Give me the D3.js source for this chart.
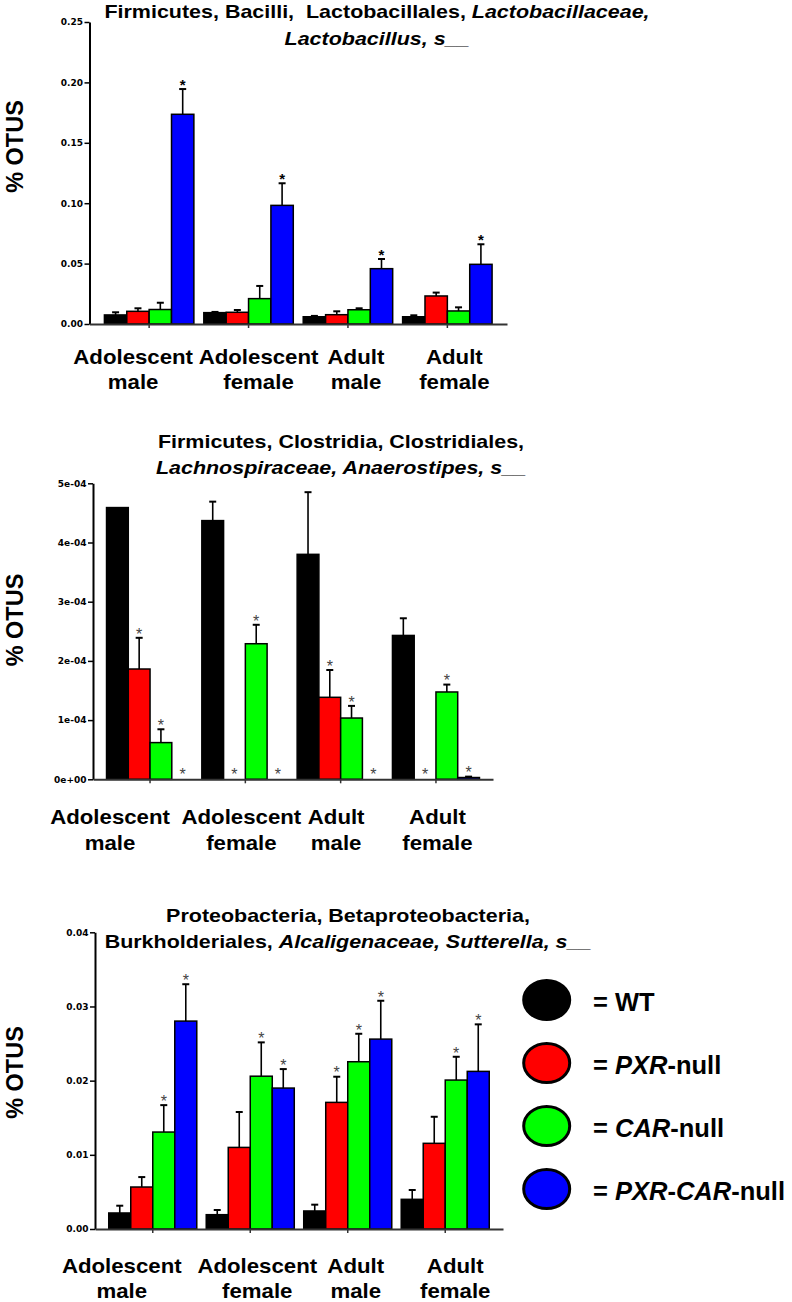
<!DOCTYPE html>
<html><head><meta charset="utf-8">
<script src="https://cdn.jsdelivr.net/npm/d3@7"></script>
<style>body{margin:0;background:#fff}svg{display:block}text{white-space:pre}</style>
</head><body><svg id="c" width="792" height="1302"></svg>
<script>
// ---------- DATA ----------
const groupLine1 = ["Adolescent", "Adolescent", "Adult", "Adult"];
const groupLine2 = ["male", "female", "male", "female"];
const seriesNames = ["WT", "PXR-null", "CAR-null", "PXR-CAR-null"];
const seriesColors = ["#000000", "#ff0000", "#00ff00", "#0000ff"];

// Chart 1: Lactobacillus (% OTUs)
const lacto_WT     = [0.0075, 0.0094, 0.0060, 0.0060];
const lacto_PXR    = [0.0105, 0.0097, 0.0077, 0.0232];
const lacto_CAR    = [0.0120, 0.0210, 0.0118, 0.0108];
const lacto_PXRCAR = [0.1736, 0.0982, 0.0458, 0.0494];
const lacto_WT_se     = [0.0022, 0.0006, 0.0007, 0.0012];
const lacto_PXR_se    = [0.0025, 0.0019, 0.0028, 0.0028];
const lacto_CAR_se    = [0.0056, 0.0105, 0.0012, 0.0030];
const lacto_PXRCAR_se = [0.0209, 0.0183, 0.0080, 0.0166];
const lacto_sig = [[0,0,0,0],[0,0,0,0],[0,0,0,0],[1,1,1,1]];
const lacto_ticks = [0, 0.05, 0.10, 0.15, 0.20, 0.25];

// Chart 2: Anaerostipes (% OTUs)
const anaero_WT     = [4.59e-4, 4.37e-4, 3.80e-4, 2.43e-4];
const anaero_PXR    = [1.863e-4, 0, 1.385e-4, 0];
const anaero_CAR    = [0.62e-4, 2.29e-4, 1.035e-4, 1.475e-4];
const anaero_PXRCAR = [0, 0, 0, 0.03e-4];
const anaero_WT_se     = [0, 0.32e-4, 1.05e-4, 0.29e-4];
const anaero_PXR_se    = [0.527e-4, 0, 0.461e-4, 0];
const anaero_CAR_se    = [0.225e-4, 0.32e-4, 0.205e-4, 0.125e-4];
const anaero_PXRCAR_se = [0, 0, 0, 0.015e-4];
const anaero_sig = [[0,0,0,0],[1,1,1,1],[1,1,1,1],[1,1,1,1]];
const anaero_ticks = [0, 1e-4, 2e-4, 3e-4, 4e-4, 5e-4];

// Chart 3: Sutterella (% OTUs)
const sutt_WT     = [0.00216, 0.00193, 0.00243, 0.00400];
const sutt_PXR    = [0.00566, 0.01100, 0.01707, 0.01155];
const sutt_CAR    = [0.01307, 0.02060, 0.02255, 0.02008];
const sutt_PXRCAR = [0.02803, 0.01900, 0.02560, 0.02125];
const sutt_WT_se     = [0.00098, 0.00063, 0.00085, 0.00126];
const sutt_PXR_se    = [0.00134, 0.00477, 0.00346, 0.00358];
const sutt_CAR_se    = [0.00363, 0.00456, 0.00377, 0.00314];
const sutt_PXRCAR_se = [0.00497, 0.00256, 0.00517, 0.00634];
const sutt_sig = [[0,0,0,0],[0,0,1,0],[1,1,1,1],[1,1,1,1]];
const sutt_ticks = [0, 0.01, 0.02, 0.03, 0.04];

const title1 = [[["Firmicutes, Bacilli,  Lactobacillales, ", false], ["Lactobacillaceae,", true]],
                [["Lactobacillus, s__", true]]];
const title2 = [[["Firmicutes, Clostridia, Clostridiales,", false]],
                [["Lachnospiraceae, Anaerostipes, s__", true]]];
const title3 = [[["Proteobacteria, Betaproteobacteria,", false]],
                [["Burkholderiales, ", false], ["Alcaligenaceae, Sutterella, s__", true]]];
const yLabel = "% OTUS";
const legendParts = [[["= WT", false]], [["= ", false], ["PXR", true], ["-null", false]],
                     [["= ", false], ["CAR", true], ["-null", false]],
                     [["= ", false], ["PXR", true], ["-", false], ["CAR", true], ["-null", false]]];

// ---------- LAYOUT ----------
const FONT = "'Liberation Sans', Arial, Helvetica, sans-serif";
const TICKFONT = "'DejaVu Sans', Verdana, sans-serif";
const sci = v => {
  if (v === 0) return "0e+00";
  const e = Math.floor(Math.log10(v) + 1e-9);
  const m = Math.round(v / Math.pow(10, e));
  return m + "e" + (e < 0 ? "-" : "+") + String(Math.abs(e)).padStart(2, "0");
};

const charts = [
  { means: [lacto_WT, lacto_PXR, lacto_CAR, lacto_PXRCAR],
    ses: [lacto_WT_se, lacto_PXR_se, lacto_CAR_se, lacto_PXRCAR_se],
    sig: lacto_sig, ticks: lacto_ticks, fmt: d3.format(".2f"),
    yRange: [324, 22], xRange: [89.5, 507], po: 0.15, pi: 0.10,
    title: title1, titleX: 377, titleY: [18, 44.5],
    labelY: 146.5, catY: [363.5, 389], catDx: [-16, 10, 8, 7],
    starBold: true },
  { means: [anaero_WT, anaero_PXR, anaero_CAR, anaero_PXRCAR],
    ses: [anaero_WT_se, anaero_PXR_se, anaero_CAR_se, anaero_PXRCAR_se],
    sig: anaero_sig, ticks: anaero_ticks, fmt: sci,
    yRange: [779.3, 483.3], xRange: [93, 493], po: 0.142, pi: 0.087,
    title: title2, titleX: 341, titleY: [448, 474],
    labelY: 620, catY: [824, 849.5], catDx: [-40, -4, -4.5, 1.5],
    starBold: false },
  { means: [sutt_WT, sutt_PXR, sutt_CAR, sutt_PXRCAR],
    ses: [sutt_WT_se, sutt_PXR_se, sutt_CAR_se, sutt_PXRCAR_se],
    sig: sutt_sig, ticks: sutt_ticks, fmt: d3.format(".2f"),
    yRange: [1229, 932.3], xRange: [95, 503], po: 0.141, pi: 0.097,
    title: title3, titleX: 348, titleY: [921.7, 948.3],
    labelY: 1072.5, catY: [1272.7, 1298.3], catDx: [-31, 7, 8, 10],
    starBold: false }
];

const svg = d3.select("#c");

function richText(parent, x, y, parts, size, sx, anchor) {
  const t = parent.append("text")
    .attr("transform", `translate(${x},${y}) scale(${sx},1)`)
    .attr("text-anchor", anchor)
    .attr("font-family", FONT).attr("font-weight", "bold")
    .attr("font-size", size).attr("fill", "#000");
  parts.forEach(([s, it]) => t.append("tspan").attr("font-style", it ? "italic" : "normal").text(s));
  return t;
}

charts.forEach(ch => {
  const g = svg.append("g");
  const y = d3.scaleLinear().domain([ch.ticks[0], ch.ticks[ch.ticks.length - 1]]).range(ch.yRange);
  const xb = d3.scaleBand().domain(d3.range(groupLine1.length)).range(ch.xRange)
    .paddingInner(ch.pi).paddingOuter(ch.po);
  const xs = d3.scaleBand().domain(d3.range(seriesNames.length)).range([0, xb.bandwidth()]);

  // bars
  seriesNames.forEach((s, si) => {
    ch.means[si].forEach((v, gi) => {
      if (v <= 0) return;
      g.append("rect")
        .attr("x", xb(gi) + xs(si)).attr("y", y(v))
        .attr("width", xs.bandwidth()).attr("height", y(0) - y(v))
        .attr("fill", seriesColors[si]).attr("stroke", "#000").attr("stroke-width", 1.5);
    });
  });

  // error bars + stars
  seriesNames.forEach((s, si) => {
    ch.means[si].forEach((v, gi) => {
      const se = ch.ses[si][gi];
      const cx = xb(gi) + xs(si) + xs.bandwidth() / 2;
      if (se > 0) {
        g.append("line").attr("x1", cx).attr("x2", cx).attr("y1", y(v)).attr("y2", y(v + se))
          .attr("stroke", "#000").attr("stroke-width", 1.6);
        g.append("line").attr("x1", cx - 3.5).attr("x2", cx + 3.5).attr("y1", y(v + se)).attr("y2", y(v + se))
          .attr("stroke", "#000").attr("stroke-width", 2);
      }
      if (ch.sig[si][gi]) {
        const top = y(v + se);
        const fs = ch.starBold ? 15 : 16;
        const center = top - (v + se > 0 ? 7.5 : 9);
        g.append("text").attr("x", cx).attr("y", center + 0.58 * fs)
          .attr("text-anchor", "middle").attr("font-family", FONT)
          .attr("font-weight", ch.starBold ? "bold" : "normal")
          .attr("font-size", fs).attr("fill", ch.starBold ? "#000" : "#444").text("*");
      }
    });
  });

  // y axis
  const ya = g.append("g").attr("transform", `translate(${ch.xRange[0]},0)`)
    .call(d3.axisLeft(y).tickValues(ch.ticks).tickFormat(ch.fmt).tickSize(5).tickSizeOuter(0).tickPadding(1.5));
  ya.select(".domain").attr("stroke", "#000").attr("stroke-width", 2);
  ya.selectAll(".tick line").attr("stroke", "#000").attr("stroke-width", 1.5);
  ya.selectAll(".tick text").attr("font-family", TICKFONT).attr("font-weight", "bold")
    .attr("font-size", 9).attr("fill", "#000");

  // x axis
  const xa = g.append("g").attr("transform", `translate(0,${ch.yRange[0]})`)
    .call(d3.axisBottom(xb).tickSize(4).tickSizeOuter(0).tickFormat(""));
  xa.select(".domain").attr("stroke", "#333").attr("stroke-width", 2);
  xa.selectAll(".tick line").attr("stroke", "#333").attr("stroke-width", 1.5);

  // category labels
  groupLine1.forEach((l1, gi) => {
    const cx = xb(gi) + xb.bandwidth() / 2 + ch.catDx[gi];
    richText(g, cx, ch.catY[0], [[l1, false]], 19.5, 1.14, "middle");
    richText(g, cx, ch.catY[1], [[groupLine2[gi], false]], 19.5, 1.14, "middle");
  });

  // titles
  ch.title.forEach((line, li) => richText(g, ch.titleX, ch.titleY[li], line, 19, 1.13, "middle"));

  // y label
  g.append("text").attr("transform", `translate(23,${ch.labelY}) rotate(-90)`)
    .attr("text-anchor", "middle").attr("font-family", FONT).attr("font-weight", "bold")
    .attr("font-size", 23.5).attr("fill", "#000").text(yLabel);
});

// legend
const lg = svg.append("g");
const legY = d3.scalePoint().domain(d3.range(seriesNames.length)).range([1000, 1189]);
seriesNames.forEach((s, i) => {
  lg.append("ellipse").attr("cx", 546.7).attr("cy", legY(i)).attr("rx", 23).attr("ry", 19.5)
    .attr("fill", seriesColors[i]).attr("stroke", "#000").attr("stroke-width", 3);
  richText(lg, 593, legY(i) + 10.5, legendParts[i], 25.5, 1, "start");
});
</script>
</body></html>
